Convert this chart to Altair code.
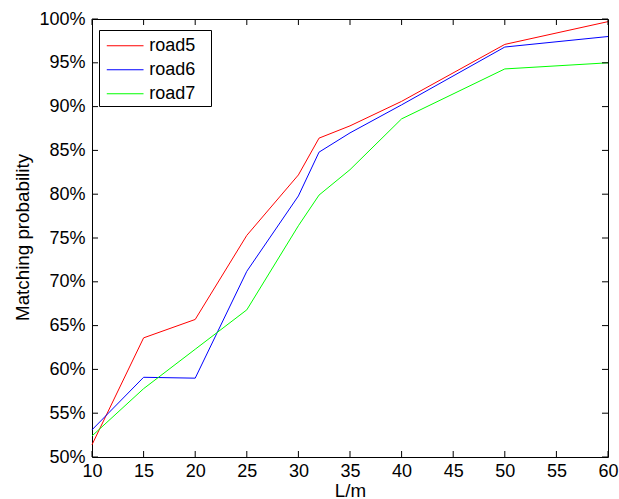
import altair as alt
import pandas as pd

# Matching probability (%) against segment length L (m) for three roads
lengths = [10, 15, 20, 25, 30, 32, 35, 40, 50, 60]
road5 = [51.4, 63.6, 65.7, 75.3, 82.2, 86.4, 87.8, 90.6, 97.1, 99.7]
road6 = [53.1, 59.1, 59.0, 71.2, 79.8, 84.8, 87.0, 90.2, 96.8, 98.0]
road7 = [52.4, 57.8, 62.3, 66.8, 76.4, 79.9, 82.8, 88.6, 94.3, 95.0]

series_names = ["road5", "road6", "road7"]
series_colors = ["#ff0000", "#0000ff", "#00ff00"]

x_ticks = [10, 15, 20, 25, 30, 35, 40, 45, 50, 55, 60]
y_ticks = [50, 55, 60, 65, 70, 75, 80, 85, 90, 95, 100]

W, H = 516, 438
FONT = "Liberation Sans"
FS = 18
TFS = 18.8
TICK = 6

rows = []
for name, vals in zip(series_names, [road5, road6, road7]):
    for L, p in zip(lengths, vals):
        rows.append({"L": L, "p": p, "road": name})
df = pd.DataFrame(rows)

xs = alt.Scale(domain=[10, 60], nice=False, zero=False)
ys = alt.Scale(domain=[50, 100], nice=False, zero=False)

# legend line sample: a horizontal stroke 1.5x wider than the symbol box
legend_line = "M-1.5,0H1.5"

lines = alt.Chart(df).mark_line(strokeWidth=1).encode(
    x=alt.X("L:Q", scale=xs, axis=alt.Axis(
        title="L/m", values=x_ticks, format="d", ticks=False, domain=False, grid=False,
        labelPadding=5, labelFlush=False, titleY=33, titleBaseline="middle")),
    y=alt.Y("p:Q", scale=ys, axis=alt.Axis(
        title="Matching probability", values=y_ticks, ticks=False, domain=False, grid=False,
        labelExpr="datum.value + '%'", labelPadding=7, labelFlush=False,
        titleX=-69.5, titleY=H / 2 - 1, titleBaseline="middle", titleAngle=-90)),
    color=alt.Color("road:N", scale=alt.Scale(domain=series_names, range=series_colors),
                    legend=alt.Legend(title=None, orient="none", legendX=7, legendY=11,
                                      symbolType=legend_line, symbolSize=600,
                                      symbolStrokeWidth=1.2, symbolOffset=10.4,
                                      labelFontSize=FS, labelFont=FONT, labelColor="black",
                                      labelExpr="datum.label + '\u2800'",
                                      fillColor="white", strokeColor="black", padding=2.75,
                                      rowPadding=2, labelOffset=11)),
)

xt = pd.DataFrame({"L": x_ticks})
yt = pd.DataFrame({"p": y_ticks})

# inward-pointing ticks on all four sides of the frame
bottom = alt.Chart(xt).mark_rule(color="black", strokeWidth=1).encode(
    x=alt.X("L:Q", scale=xs), y=alt.value(H), y2=alt.value(H - TICK))
top = alt.Chart(xt).mark_rule(color="black", strokeWidth=1).encode(
    x=alt.X("L:Q", scale=xs), y=alt.value(0), y2=alt.value(TICK))
left = alt.Chart(yt).mark_rule(color="black", strokeWidth=1).encode(
    y=alt.Y("p:Q", scale=ys), x=alt.value(0), x2=alt.value(TICK))
right = alt.Chart(yt).mark_rule(color="black", strokeWidth=1).encode(
    y=alt.Y("p:Q", scale=ys), x=alt.value(W), x2=alt.value(W - TICK))

chart = alt.layer(lines, bottom, top, left, right).properties(
    width=W, height=H,
    autosize=alt.AutoSizeParams(type="none"),
    padding={"left": 92, "top": 19, "right": 11, "bottom": 42},
    background="white",
).configure_view(
    stroke="black", strokeWidth=1,
).configure_axis(
    labelFont=FONT, labelFontSize=FS, labelColor="black",
    titleFont=FONT, titleFontSize=TFS, titleColor="black", titleFontWeight="normal",
)

chart.save("out.html", embed_options={"renderer": "svg", "actions": False})
